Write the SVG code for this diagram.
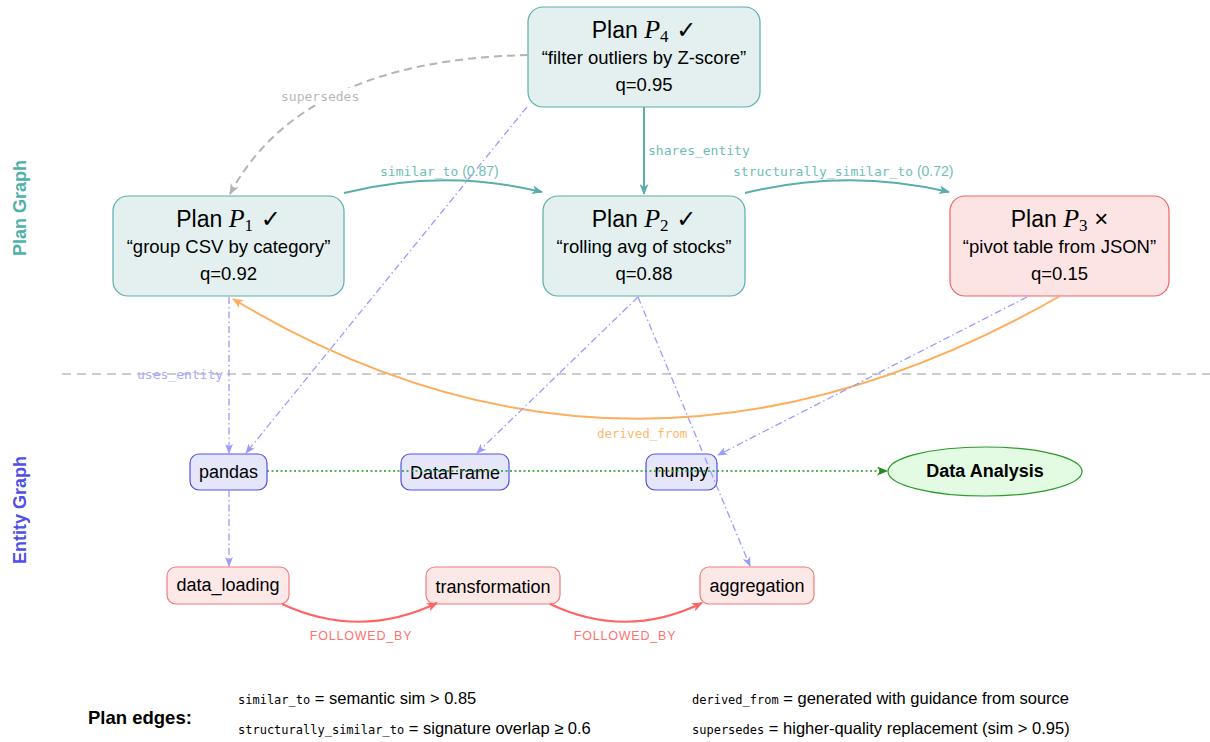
<svg xmlns="http://www.w3.org/2000/svg" width="1210" height="742" viewBox="0 0 1210 742">
<style>
  .plan { fill:#e3f0ef; stroke:#5aaeaa; stroke-width:1.2; }
  .fail { fill:#fde4e4; stroke:#f06464; stroke-width:1.2; }
  .ent { fill:#e6e6fb; stroke:#5050e8; stroke-width:1.2; }
  .task { fill:#fde8e8; stroke:#f07c7c; stroke-width:1.2; }
  .sans { font-family:"Liberation Sans", Arial, sans-serif; fill:#000; }
  .serif { font-family:"Liberation Serif", "Times New Roman", serif; font-style:italic; font-size:26px; }
  .idx { font-family:"Liberation Serif", "Times New Roman", serif; font-size:17px; }
  .chk { font-family:"DejaVu Sans", sans-serif; font-size:24px; }
  .title { font-size:23px; }
  .sub { font-size:18.5px; }
  .lbl { font-size:18px; }
  .mono { font-family:"DejaVu Sans Mono", "Liberation Mono", monospace; }
  .elab { font-size:13px; }
  .teal { fill:#6fbdb8; }
  .c-teal { stroke:#5aaeaa; stroke-width:2; fill:none; }
  .c-gray { stroke:#b4b4b4; stroke-width:2; fill:none; stroke-dasharray:8 5; }
  .c-blue { stroke:#9b9bff; stroke-width:1.3; fill:none; stroke-dasharray:7 3 1.5 3; }
  .c-orange { stroke:#ffad5c; stroke-width:2; fill:none; }
  .c-green { stroke:#1f9a1f; stroke-width:1.6; fill:none; stroke-dasharray:2 2.5; }
  .c-red { stroke:#ff6464; stroke-width:2; fill:none; }
  .leg { font-size:16.5px; }
  .legm { font-size:12px; }
</style>
<defs>
  <marker id="a-teal" markerWidth="11" markerHeight="9" refX="10" refY="4.5" orient="auto" markerUnits="userSpaceOnUse"><path d="M0,0 L11,4.5 L0,9 L3,4.5 Z" fill="#5aaeaa"/></marker>
  <marker id="a-gray" markerWidth="11" markerHeight="9" refX="10" refY="4.5" orient="auto" markerUnits="userSpaceOnUse"><path d="M0,0 L11,4.5 L0,9 L3,4.5 Z" fill="#b4b4b4"/></marker>
  <marker id="a-blue" markerWidth="10" markerHeight="8" refX="9" refY="4" orient="auto" markerUnits="userSpaceOnUse"><path d="M0,0 L10,4 L0,8 L2.5,4 Z" fill="#9b9bff"/></marker>
  <marker id="a-orange" markerWidth="11" markerHeight="9" refX="10" refY="4.5" orient="auto" markerUnits="userSpaceOnUse"><path d="M0,0 L11,4.5 L0,9 L3,4.5 Z" fill="#ffad5c"/></marker>
  <marker id="a-green" markerWidth="11" markerHeight="9" refX="10" refY="4.5" orient="auto" markerUnits="userSpaceOnUse"><path d="M0,0 L11,4.5 L0,9 L3,4.5 Z" fill="#1f8a1f"/></marker>
  <marker id="a-red" markerWidth="11" markerHeight="9" refX="10" refY="4.5" orient="auto" markerUnits="userSpaceOnUse"><path d="M0,0 L11,4.5 L0,9 L3,4.5 Z" fill="#ff6464"/></marker>
</defs>
<rect x="0" y="0" width="1210" height="742" fill="#fff"/>

<!-- separator and side labels -->
<g id="layers">
  <line x1="62" y1="374" x2="1210" y2="374" stroke="#cccccc" stroke-width="2" stroke-dasharray="9 6"/>
  <text class="sans" transform="translate(26,208) rotate(-90)" text-anchor="middle" font-size="18" font-weight="bold" style="fill:#4fb0aa">Plan Graph</text>
  <text class="sans" transform="translate(26,510) rotate(-90)" text-anchor="middle" font-size="18" font-weight="bold" style="fill:#4f4fe6">Entity Graph</text>
</g>

<!-- nodes -->
<g id="P4">
  <rect class="plan" x="528" y="7" width="232" height="100" rx="15"/>
  <text class="sans title" x="644" y="38" text-anchor="middle">Plan <tspan class="serif">P</tspan><tspan class="idx" dy="4">4</tspan><tspan class="chk" dy="-4"> ✓</tspan></text>
  <text class="sans sub" x="644" y="64" text-anchor="middle">“filter outliers by Z-score”</text>
  <text class="sans sub" x="644" y="91" text-anchor="middle">q=0.95</text>
</g>
<g id="P1">
  <rect class="plan" x="113" y="196" width="231" height="100" rx="15"/>
  <text class="sans title" x="228.5" y="227" text-anchor="middle">Plan <tspan class="serif">P</tspan><tspan class="idx" dy="4">1</tspan><tspan class="chk" dy="-4"> ✓</tspan></text>
  <text class="sans sub" x="228.5" y="253" text-anchor="middle">“group CSV by category”</text>
  <text class="sans sub" x="228.5" y="280" text-anchor="middle">q=0.92</text>
</g>
<g id="P2">
  <rect class="plan" x="543" y="196" width="202" height="100" rx="15"/>
  <text class="sans title" x="644" y="227" text-anchor="middle">Plan <tspan class="serif">P</tspan><tspan class="idx" dy="4">2</tspan><tspan class="chk" dy="-4"> ✓</tspan></text>
  <text class="sans sub" x="644" y="253" text-anchor="middle">“rolling avg of stocks”</text>
  <text class="sans sub" x="644" y="280" text-anchor="middle">q=0.88</text>
</g>
<g id="P3">
  <rect class="fail" x="950" y="196" width="219" height="100" rx="15"/>
  <text class="sans title" x="1059.5" y="227" text-anchor="middle">Plan <tspan class="serif">P</tspan><tspan class="idx" dy="4">3</tspan><tspan font-size="24" dy="-4"> ×</tspan></text>
  <text class="sans sub" x="1059.5" y="253" text-anchor="middle">“pivot table from JSON”</text>
  <text class="sans sub" x="1059.5" y="280" text-anchor="middle">q=0.15</text>
</g>

<g id="pandas">
  <rect class="ent" x="190" y="454" width="77" height="36" rx="9"/>
  <text class="sans lbl" x="228.5" y="478" text-anchor="middle">pandas</text>
</g>
<g id="DataFrame">
  <rect class="ent" x="401" y="454" width="108" height="36" rx="9"/>
  <text class="sans lbl" x="455" y="479" text-anchor="middle">DataFrame</text>
</g>
<g id="numpy">
  <rect class="ent" x="646" y="454" width="71" height="36" rx="9"/>
  <text class="sans lbl" x="681.5" y="477" text-anchor="middle">numpy</text>
</g>
<g id="DataAnalysis">
  <ellipse cx="985" cy="471.5" rx="97" ry="24.5" fill="#e3fbe3" stroke="#2a9a2a" stroke-width="1.2"/>
  <text class="sans" x="985" y="477" text-anchor="middle" font-size="18" font-weight="bold">Data Analysis</text>
</g>
<g id="data_loading">
  <rect class="task" x="167" y="567" width="122" height="37" rx="9"/>
  <text class="sans lbl" x="228" y="591" text-anchor="middle">data_loading</text>
</g>
<g id="transformation">
  <rect class="task" x="426" y="567" width="134" height="37" rx="9"/>
  <text class="sans lbl" x="493" y="593" text-anchor="middle">transformation</text>
</g>
<g id="aggregation">
  <rect class="task" x="700" y="567" width="114" height="37" rx="9"/>
  <text class="sans lbl" x="757" y="592" text-anchor="middle">aggregation</text>
</g>

<!-- connectors -->
<g id="connectors">
  <!-- shares_entity -->
  <line class="c-teal" x1="644" y1="107" x2="644" y2="194" marker-end="url(#a-teal)"/>
  <text class="mono elab teal" x="648" y="155">shares_entity</text>
  <!-- similar_to -->
  <path class="c-teal" d="M344,193 Q443,168 542,192" marker-end="url(#a-teal)"/>
  <text class="mono elab teal" x="380" y="176">similar_to<tspan font-family="Liberation Sans, Arial, sans-serif" font-size="14" style="fill:#6fbdb8"> (0.87)</tspan></text>
  <!-- structurally_similar_to -->
  <path class="c-teal" d="M745,193 Q847,168 949,192" marker-end="url(#a-teal)"/>
  <text class="mono elab teal" x="733" y="176">structurally_similar_to<tspan font-family="Liberation Sans, Arial, sans-serif" font-size="14" style="fill:#6fbdb8"> (0.72)</tspan></text>
  <!-- supersedes -->
  <path class="c-gray" d="M528,55 Q301,60 230,194" marker-end="url(#a-gray)"/>
  <rect x="279" y="88" width="84" height="17" fill="#fff"/>
  <text class="mono elab" x="281" y="101" style="fill:#b8b8b8">supersedes</text>
  <!-- derived_from -->
  <path class="c-orange" d="M1060,296 Q634,540 233,299" marker-end="url(#a-orange)"/>
  <text class="mono" x="597" y="438" font-size="12.5" style="fill:#ffb870">derived_from</text>
  <!-- uses_entity edges -->
  <line class="c-blue" x1="229" y1="297" x2="229" y2="453" marker-end="url(#a-blue)"/>
  <text class="mono elab" x="137" y="379" style="fill:#a9a9ff">uses_entity</text>
  <line class="c-blue" x1="527" y1="107" x2="246" y2="453" marker-end="url(#a-blue)"/>
  <line class="c-blue" x1="638" y1="297" x2="477" y2="453" marker-end="url(#a-blue)"/>
  <line class="c-blue" x1="638" y1="297" x2="750" y2="566" marker-end="url(#a-blue)"/>
  <line class="c-blue" x1="1027" y1="297" x2="718" y2="455" marker-end="url(#a-blue)"/>
  <line class="c-blue" x1="229" y1="490" x2="229" y2="566" marker-end="url(#a-blue)"/>
  <!-- dotted green -->
  <line class="c-green" x1="267" y1="471" x2="887" y2="471" marker-end="url(#a-green)"/>
  <!-- FOLLOWED_BY -->
  <path class="c-red" d="M282,604 Q360,640 437,603" marker-end="url(#a-red)"/>
  <text class="sans" x="361" y="640" text-anchor="middle" font-size="12.5" letter-spacing="0.8" style="fill:#ff7070">FOLLOWED_BY</text>
  <path class="c-red" d="M550,604 Q626,640 702,603" marker-end="url(#a-red)"/>
  <text class="sans" x="625" y="640" text-anchor="middle" font-size="12.5" letter-spacing="0.8" style="fill:#ff7070">FOLLOWED_BY</text>
</g>

<!-- legend -->
<g id="legend">
  <text class="sans" x="88" y="724" font-size="18.5" font-weight="bold">Plan edges:</text>
  <text class="sans leg" x="238" y="704"><tspan class="mono legm">similar_to</tspan> = semantic sim  &gt;  0.85</text>
  <text class="sans leg" x="238" y="734"><tspan class="mono legm">structurally_similar_to</tspan> = signature overlap ≥ 0.6</text>
  <text class="sans leg" x="692" y="704"><tspan class="mono legm">derived_from</tspan> = generated with guidance from source</text>
  <text class="sans leg" x="692" y="734"><tspan class="mono legm">supersedes</tspan> = higher-quality replacement (sim &gt; 0.95)</text>
</g>
</svg>
